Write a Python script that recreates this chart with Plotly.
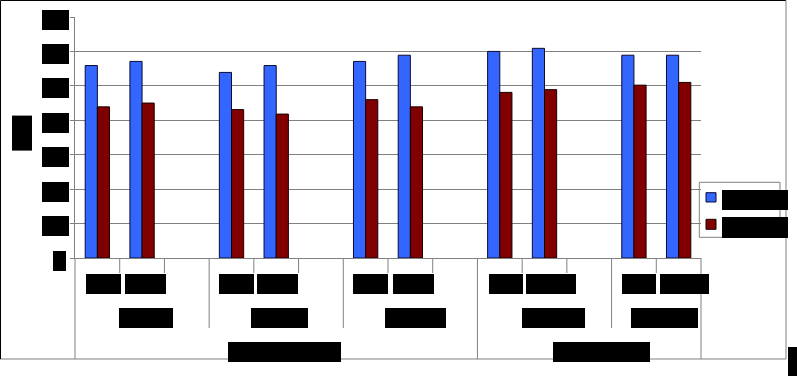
import plotly.graph_objects as go

# ---------------- data ----------------
slot_labels = ["2008", "2009*", "", "2008", "2009*", "", "2008", "2009*", "",
               "2008", "2009*", "", "2008", "2009*"]
series_names = ["Series 1", "Series 2"]
blue_vals = [55.9, 57.1, None, 53.9, 55.9, None, 57.1, 58.9, None,
             60.0, 60.9, None, 58.9, 58.9]
red_vals = [43.9, 45.0, None, 43.1, 41.8, None, 46.0, 43.9, None,
            48.1, 48.9, None, 50.2, 51.0]
group_labels = ["North", "South", "East", "West", "Central"]
group_spans = [(0, 2), (3, 5), (6, 8), (9, 11), (12, 13)]
super_labels = ["Survey one", "Survey two"]
super_spans = [(0, 8), (9, 13)]
y_ticks = [0, 10, 20, 30, 40, 50, 60, 70]
y_title = "%"
note_text = "*"

# ---------------- geometry helpers ----------------
W, H = 797, 376
L, R, T, B = 75, 96, 17, 118
PW, PH = W - L - R, H - T - B
XMIN, XMAX = -0.5, len(slot_labels) - 0.5
YMAX = 70


def px2x(px):
    return (px - L) / PW


def px2y(py):
    return (H - B - py) / PH


def d2x(v):
    return (v - XMIN) / (XMAX - XMIN)


x = list(range(len(slot_labels)))

fig = go.Figure()
fig.add_trace(go.Bar(x=x, y=blue_vals, name=series_names[0],
                     marker=dict(color="#3366FF", line=dict(color="#0b0b33", width=1))))
fig.add_trace(go.Bar(x=x, y=red_vals, name=series_names[1],
                     marker=dict(color="#800000", line=dict(color="#1a0000", width=1))))

shapes = []
annos = []
GRAY = "#808080"


def box(xp, yp, w, h, text, xanchor="center", textangle=0, yanchor="middle", xref="paper", yref="paper", xshift=0, yshift=0, size=12):
    annos.append(dict(x=xp, y=yp, xref=xref, yref=yref, text=text, showarrow=False,
                      bgcolor="black", font=dict(color="black", size=size, family="Liberation Sans"),
                      width=w, height=h, borderpad=0, borderwidth=0, xanchor=xanchor,
                      yanchor=yanchor, textangle=textangle, xshift=xshift, yshift=yshift))


def line(x0, y0, x1, y1, color=GRAY, width=1):
    shapes.append(dict(type="line", xref="paper", yref="paper", x0=x0, y0=y0, x1=x1, y1=y1,
                       line=dict(color=color, width=width)))


# y tick labels
for v in y_ticks:
    w = 13.3 if len(str(v)) == 1 else 27.3
    rx = 65.7 if len(str(v)) == 1 else 69.3
    box(px2x(rx), v, w, 20, str(v), xanchor="right", yref="y", yshift=-2.5)

# y title
box(px2x(22.3), px2y(133.3), 35, 20, y_title, textangle=-90)

# level-1 labels
lvl1_w = [35, 41.3, 0, 34.6, 41, 0, 34.7, 40.7, 0, 34, 49.7, 0, 34.3, 48.7]
lvl1_shift = [6.5, 3.5, 0, 5, 1.6, 0, 4.5, 3.4, 0, 6, 6.3, 0, 4.8, 5.6]
for i, lab in enumerate(slot_labels):
    if lab:
        box(d2x(i), px2y(284), lvl1_w[i], 20, lab, xshift=lvl1_shift[i])

# level-2 labels
lvl2_w = [54, 57.3, 60.6, 62.6, 66.7]
lvl2_shift = [4, 3.7, 5, 8.5, 8.5]
for j, (lab, (a, b)) in enumerate(zip(group_labels, group_spans)):
    box(d2x((a + b) / 2), px2y(318), lvl2_w[j], 20, lab, xshift=lvl2_shift[j])

# level-3 labels
lvl3_w = [113, 97]
lvl3_shift = [8.3, 12.3]
for j, (lab, (a, b)) in enumerate(zip(super_labels, super_spans)):
    box(d2x((a + b) / 2), px2y(352), lvl3_w[j], 20, lab, xshift=lvl3_shift[j])

# note box bottom right (partly visible at the edge in the original)
box(px2x(788.3), px2y(361.3), 8.5, 29.3, note_text, xanchor="left", size=9)

# category dividers
group_ends = {b for a, b in group_spans}
super_ends = {b for a, b in super_spans}
for i in range(len(slot_labels)):
    bx = d2x(i + 0.5)
    if i in super_ends:
        yb = 359
    elif i in group_ends:
        yb = 328
    else:
        yb = 273
    line(bx, px2y(258), bx, px2y(yb))

# extended left axis line & bottom line
line(0, px2y(258), 0, px2y(359))
line(px2x(0), px2y(359), px2x(786), px2y(359))
# outer frame
line(px2x(0.5), px2y(0.5), px2x(786), px2y(0.5), color="black")
line(px2x(0.5), px2y(0.5), px2x(0.5), px2y(359), color="black")
line(px2x(786), px2y(0.5), px2x(786), px2y(359))

# manual legend
shapes.append(dict(type="rect", xref="paper", yref="paper",
                   x0=px2x(699.3), x1=px2x(780), y0=px2y(182.3), y1=px2y(237.3),
                   line=dict(color=GRAY, width=1), fillcolor="white", layer="below"))
shapes.append(dict(type="rect", xref="paper", yref="paper",
                   x0=px2x(706), x1=px2x(716), y0=px2y(192.7), y1=px2y(202),
                   line=dict(color="#0b0b33", width=1), fillcolor="#3366FF"))
shapes.append(dict(type="rect", xref="paper", yref="paper",
                   x0=px2x(706), x1=px2x(716), y0=px2y(219.3), y1=px2y(229.3),
                   line=dict(color="#1a0000", width=1), fillcolor="#800000"))
box(px2x(722), px2y(200), 66.3, 20.3, series_names[0], xanchor="left")
box(px2x(722), px2y(227), 66.3, 20.6, series_names[1], xanchor="left")

fig.update_layout(
    width=W, height=H, autosize=False,
    margin=dict(l=L, r=R, t=T, b=B, pad=0),
    paper_bgcolor="white", plot_bgcolor="white",
    barmode="group", bargap=0.456, bargroupgap=0,
    showlegend=False,
    xaxis=dict(range=[XMIN, XMAX], showticklabels=False, showgrid=False, zeroline=False,
               showline=True, linecolor=GRAY, linewidth=1, ticks=""),
    yaxis=dict(range=[0, YMAX], tickvals=y_ticks, showticklabels=False, showgrid=True,
               gridcolor=GRAY, gridwidth=1, zeroline=False, showline=True,
               linecolor=GRAY, linewidth=1, ticks="outside", ticklen=4, tickcolor=GRAY),
    shapes=shapes, annotations=annos,
)

fig.write_html("out.html", config={"displayModeBar": False},
               post_script="document.body.style.margin='0';document.body.style.overflow='hidden';")
